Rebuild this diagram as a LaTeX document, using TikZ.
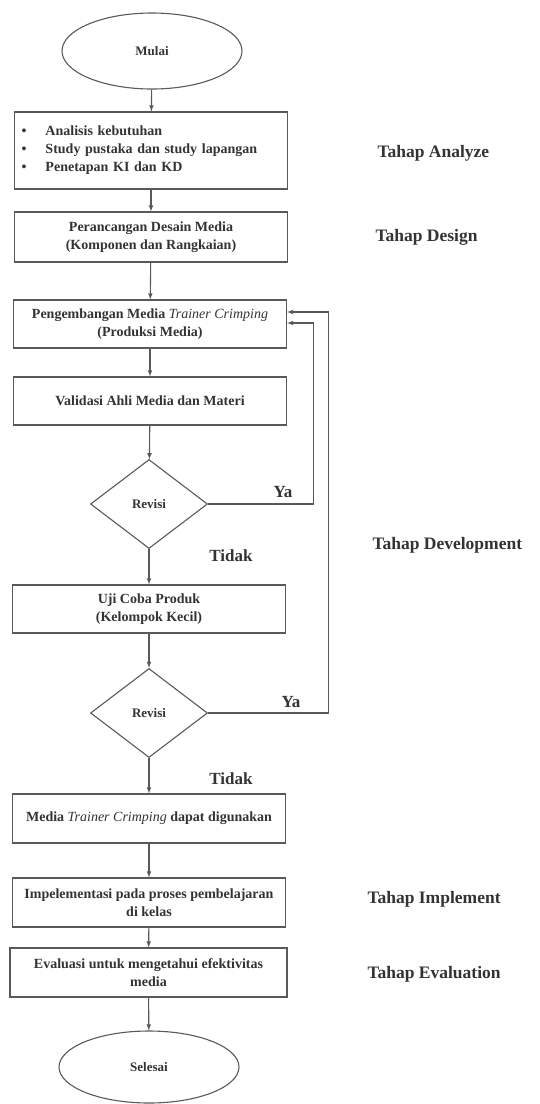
\documentclass[tikz,border=0pt]{standalone}
\usepackage{fontspec}
\setmainfont{Liberation Serif}
\usepackage{tikz}
\usetikzlibrary{shapes.geometric}

\tikzset{
	garis/.style={draw=black!65, line width=1.1pt},
	panah/.style={garis, -latex},
	kotak/.style={garis, rectangle, minimum width=273pt, minimum height=48pt, align=center, font=\fontsize{14}{18}\selectfont\bfseries, text=black!80},
	elips/.style={garis, ellipse, minimum width=180pt, minimum height=76pt, font=\fontsize{13}{15}\selectfont\bfseries, text=black!80},
	belah/.style={garis, diamond, minimum width=117pt, minimum height=89pt, inner sep=0pt, font=\fontsize{13}{15}\selectfont\bfseries, text=black!80},
	tahap/.style={anchor=west, font=\fontsize{17.5}{20}\selectfont\bfseries, text=black!80},
	jawab/.style={font=\fontsize{17}{20}\selectfont\bfseries, text=black!80}
}

\begin{document}
\begin{tikzpicture}[x=1pt, y=-1pt]
				\useasboundingbox (0,0) rectangle (539,1104);
				%Mulai
				\node[elips] (mulai) at (152,51) {Mulai};
				%Kotak
				\node[kotak, minimum height=77pt, align=left, text width=259pt] (analisis) at (151,150.5) {%
					\makebox[24pt][l]{\textbullet}Analisis kebutuhan\\
					\makebox[24pt][l]{\textbullet}Study pustaka dan study lapangan\\
					\makebox[24pt][l]{\textbullet}Penetapan KI dan KD};
				\node[kotak, minimum height=50pt] (desain) at (151,237) {Perancangan Desain Media\\(Komponen dan Rangkaian)};
				\node[kotak] (produksi) at (150,324) {Pengembangan Media {\mdseries\itshape Trainer Crimping}\\(Produksi Media)};
				\node[kotak] (validasi) at (150,401) {Validasi Ahli Media dan Materi};
				\node[belah] (revisi1) at (149,504) {Revisi};
				\node[kotak] (ujicoba) at (149,609) {Uji Coba Produk\\(Kelompok Kecil)};
				\node[belah] (revisi2) at (149,713) {Revisi};
				\node[kotak, minimum height=49pt] (siap) at (149,818.5) {Media {\mdseries\itshape Trainer Crimping} dapat digunakan};
				\node[kotak, minimum height=49pt] (implementasi) at (149,902.5) {Impelementasi pada proses pembelajaran\\di kelas};
				\node[kotak, minimum height=49pt, minimum width=277pt] (evaluasi) at (148.5,972.5) {Evaluasi untuk mengetahui efektivitas\\media};
				%Selesai
				\node[elips, minimum height=72pt] (selesai) at (149,1067) {Selesai};

				%Panah
				\draw[panah] (mulai) -- (analisis);
				\draw[panah] (analisis) -- (desain);
				\draw[panah] (desain) -- (produksi);
				\draw[panah] (produksi) -- (validasi);
				\draw[panah] (validasi) -- (revisi1);
				\draw[panah] (revisi1) -- (ujicoba);
				\draw[panah] (ujicoba) -- (revisi2);
				\draw[panah] (revisi2) -- (siap);
				\draw[panah] (siap) -- (implementasi);
				\draw[panah] (implementasi) -- (evaluasi);
				\draw[panah] (evaluasi) -- (selesai);
				%Ya
				\draw[panah] (revisi1.east) -- ++(105,0) |- ([yshift=1pt]produksi.east);
				\draw[panah] (revisi2.east) -- ++(120,0) |- ([yshift=12pt]produksi.east);
				\node[jawab] (ya1) at (283,492) {Ya};
				\node[jawab] (ya2) at (291,702) {Ya};
				\node[jawab] (tidak1) at (231,556) {Tidak};
				\node[jawab] (tidak2) at (231,779) {Tidak};

				%Tahap
				\node[tahap] (analyze) at (374,153) {Tahap Analyze};
				\node[tahap] (design) at (372,237) {Tahap Design};
				\node[tahap] (development) at (369,545) {Tahap Development};
				\node[tahap] (implement) at (364,899) {Tahap Implement};
				\node[tahap] (evaluation) at (364,974) {Tahap Evaluation};
\end{tikzpicture}
\end{document}
